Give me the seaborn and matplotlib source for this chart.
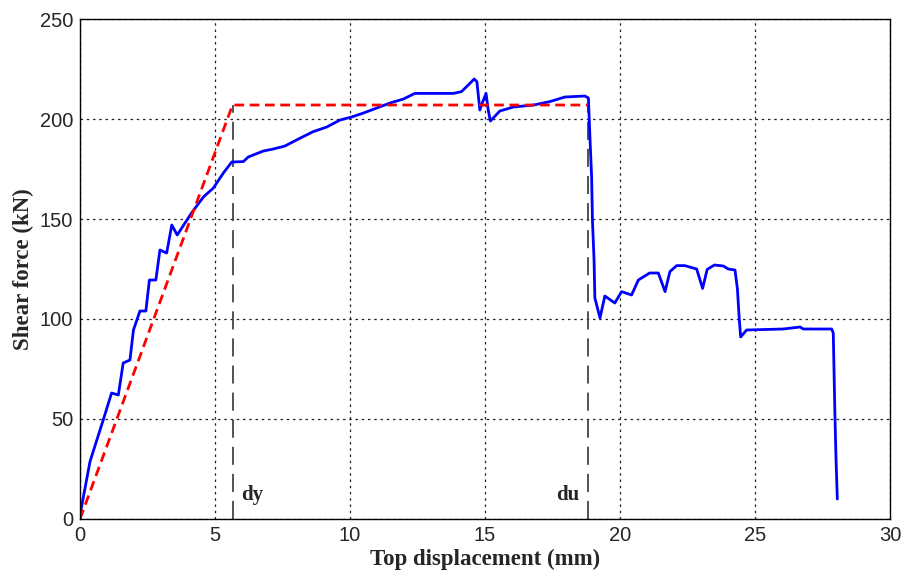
import numpy as np
import pandas as pd
import matplotlib
matplotlib.use("Agg")
import matplotlib.pyplot as plt
import seaborn as sns

# measured pushover curve
disp = [0, 0.37, 0.86, 1.17, 1.42, 1.6, 1.85, 1.98, 2.22, 2.44, 2.57, 2.81, 2.96, 3.21,
        3.4, 3.6, 4.13, 4.57, 4.94, 5.31, 5.62, 6.05, 6.23, 6.79, 7.16, 7.59, 8.09, 8.64,
        9.14, 9.63, 10.06, 10.5, 10.99, 11.48, 11.98, 12.4, 13.83, 14.13, 14.38, 14.6,
        14.7, 14.81, 14.9, 15.04, 15.12, 15.2, 15.55, 16.05, 16.8, 17.4, 17.96, 18.7,
        18.83, 18.89, 18.95, 18.98, 19.04, 19.07, 19.26, 19.44, 19.81, 20.06, 20.43,
        20.68, 21.1, 21.42, 21.67, 21.85, 22.1, 22.4, 22.84, 23.06, 23.23, 23.5, 23.83,
        24.01, 24.26, 24.35, 24.42, 24.47, 24.69, 26.05, 26.67, 26.79, 27.84, 27.9,
        27.93, 27.96, 28.0, 28.05]
force = [2, 28.7, 49.5, 63, 62, 78, 79.5, 94.5, 104, 104, 119.5, 119.5, 134.5, 133,
         147, 142, 153, 161, 165.5, 173, 178.5, 178.7, 181, 184, 185, 186.5, 190, 193.7,
         196, 199.5, 201, 203, 205.5, 208, 210, 212.8, 212.8, 213.7, 217, 220,
         218.7, 204.5, 208, 212.8, 204.5, 199, 204, 206, 207, 208.7, 211, 211.5,
         210.5, 190, 171, 149.5, 129.5, 110.5, 100.5, 111.5, 108, 113.7, 112,
         119.5, 123, 123, 113.7, 123.7, 126.7, 126.7, 125, 115.3, 124.8, 127, 126.5,
         125, 124.5, 115, 99.5, 91, 94.5, 95, 96, 95, 95, 93,
         73, 53, 31, 10]

# idealised bilinear curve
bilin_disp = [0, 5.65, 18.8]
bilin_force = [0, 207, 207]

dy = 5.65
du = 18.8
x_ticks = [0, 5, 10, 15, 20, 25, 30]
y_ticks = [0, 50, 100, 150, 200, 250]

sns.set_style("white")
plt.rcParams["font.family"] = ["Liberation Sans", "DejaVu Sans"]

fig = plt.figure(figsize=(9.06, 5.8), dpi=100)
ax = fig.add_axes([0.0883, 0.1052, 0.894, 0.862])

curve = pd.DataFrame({"d": disp, "f": force})
bilin = pd.DataFrame({"d": bilin_disp, "f": bilin_force})

for xv, label, ha, dx in [(dy, "dy", "left", 0.3), (du, "du", "right", -0.3)]:
    ax.plot([xv, xv], [0, 207], color="#444444", lw=1.3, dashes=(10, 5))
    ax.text(xv + dx, 7, label, ha=ha, va="bottom", fontsize=15, fontweight="bold",
            family="Liberation Serif")

sns.lineplot(data=curve, x="d", y="f", sort=False, estimator=None, color="blue",
             lw=2, ax=ax)
sns.lineplot(data=bilin, x="d", y="f", sort=False, estimator=None, color="red",
             lw=2, ax=ax, dashes=False, linestyle=(0, (3.5, 2)))

ax.set_xlim(0, 30)
ax.set_ylim(0, 250)
ax.set_xticks(x_ticks)
ax.set_yticks(y_ticks)
ax.grid(True, color="#222222", linestyle=(0, (2, 3)), lw=0.9)
ax.tick_params(direction="in", length=4, labelsize=14.5, color="black", pad=5)
for t in ax.get_xticklabels() + ax.get_yticklabels():
    t.set_fontweight("medium")
for s in ax.spines.values():
    s.set_color("black")
    s.set_linewidth(1.0)

ax.set_xlabel("Top displacement (mm)", fontsize=16.5, fontweight="bold",
              family="Liberation Serif", labelpad=3)
ax.set_ylabel("Shear force (kN)", fontsize=16.5, fontweight="bold",
              family="Liberation Serif", labelpad=4)

fig.savefig("out.png", dpi=100)
